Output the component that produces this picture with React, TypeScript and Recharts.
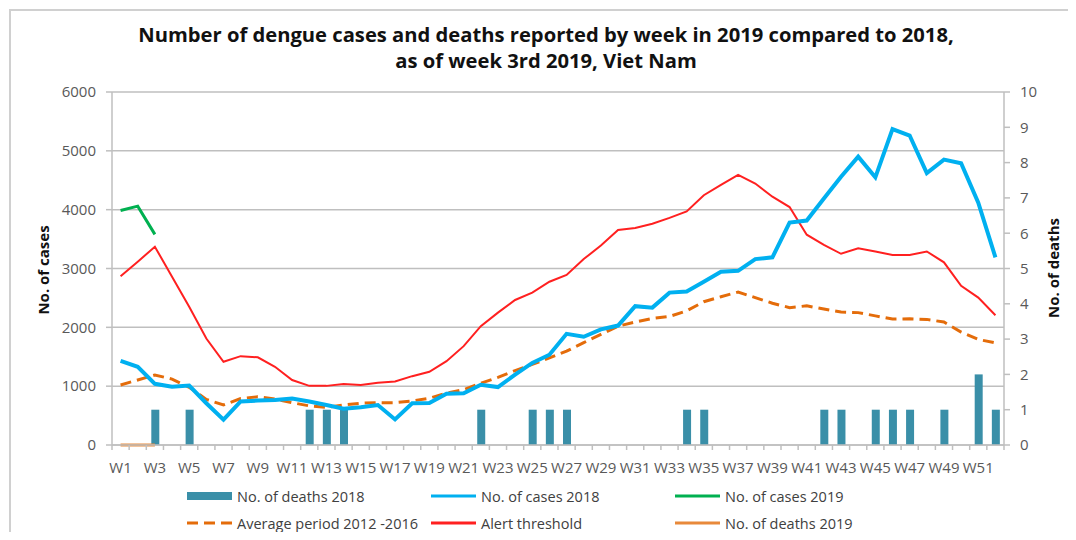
import {
  Bar,
  CartesianGrid,
  ComposedChart,
  Line,
  XAxis,
  YAxis,
} from 'recharts';

const weeks = [
  'W1', 'W2', 'W3', 'W4', 'W5', 'W6', 'W7', 'W8', 'W9', 'W10',
  'W11', 'W12', 'W13', 'W14', 'W15', 'W16', 'W17', 'W18', 'W19', 'W20',
  'W21', 'W22', 'W23', 'W24', 'W25', 'W26', 'W27', 'W28', 'W29', 'W30',
  'W31', 'W32', 'W33', 'W34', 'W35', 'W36', 'W37', 'W38', 'W39', 'W40',
  'W41', 'W42', 'W43', 'W44', 'W45', 'W46', 'W47', 'W48', 'W49', 'W50',
  'W51', 'W52',
];

const deaths2018 = [
  0, 0, 1, 0, 1, 0, 0, 0, 0, 0,
  0, 1, 1, 1, 0, 0, 0, 0, 0, 0,
  0, 1, 0, 0, 1, 1, 1, 0, 0, 0,
  0, 0, 0, 1, 1, 0, 0, 0, 0, 0,
  0, 1, 1, 0, 1, 1, 1, 0, 1, 0,
  2, 1,
];

const cases2018 = [
  1430, 1330, 1040, 990, 1010, 710, 430, 740, 755, 765,
  790, 740, 680, 615, 640, 680, 435, 710, 712, 870,
  880, 1025, 985, 1195, 1395, 1535, 1890, 1840, 1965, 2030,
  2360, 2335, 2590, 2610, 2775, 2945, 2960, 3160, 3190, 3780,
  3815, 4190, 4560, 4900, 4550, 5370, 5260, 4620, 4850, 4790,
  4120, 3190,
];

const cases2019 = [3985, 4060, 3580];

const deaths2019 = [0, 0, 0];

const averagePeriod = [
  1020, 1105, 1190, 1120, 980, 775, 680, 790, 820, 780,
  720, 665, 640, 680, 710, 720, 720, 750, 795, 880,
  940, 1050, 1150, 1265, 1370, 1480, 1595, 1740, 1880, 2020,
  2090, 2150, 2185, 2280, 2435, 2520, 2600, 2505, 2410, 2335,
  2365, 2310, 2260, 2250, 2195, 2140, 2145, 2135, 2090, 1920,
  1795, 1735,
];

const alertThreshold = [
  2870, 3115, 3370, 2860, 2350, 1810, 1415, 1510, 1490, 1330,
  1105, 1005, 1005, 1035, 1020, 1060, 1080, 1170, 1245, 1425,
  1680, 2020, 2250, 2465, 2590, 2775, 2890, 3160, 3390, 3655,
  3690, 3760, 3860, 3970, 4245, 4420, 4590, 4445, 4220, 4045,
  3575, 3400, 3250, 3345, 3290, 3230, 3230, 3290, 3105, 2705,
  2505, 2205,
];

const casesTicks = [0, 1000, 2000, 3000, 4000, 5000, 6000];
const deathsTicks = [0, 1, 2, 3, 4, 5, 6, 7, 8, 9, 10];

const FONT = "'Open Sans', 'Liberation Sans', sans-serif";
const AXIS_GRAY = '#bfbfbf';
const TEXT_GRAY = '#595959';

const CHART_W = 1060;
const CHART_H = 524;
const LEFT_AXIS_W = 104;
const RIGHT_AXIS_W = 64;
const BAND = (CHART_W - LEFT_AXIS_W - RIGHT_AXIS_W) / weeks.length;

const rows = weeks.map((week, i) => ({
  week,
  deaths2018: deaths2018[i] || null,
  cases2018: cases2018[i],
  cases2019: cases2019[i] ?? null,
  deaths2019: deaths2019[i] ?? null,
  average: averagePeriod[i],
  alert: alertThreshold[i],
}));

// legend order follows the Excel layout: 3 columns, 2 rows
const legendItems = [
  { label: 'No. of deaths 2018', color: '#3a8fa8', kind: 'bar' },
  { label: 'No. of cases 2018', color: '#00b0f0', kind: 'line' },
  { label: 'No. of cases 2019', color: '#00b050', kind: 'line' },
  { label: 'Average period 2012 -2016', color: '#e46c0a', kind: 'dash' },
  { label: 'Alert threshold', color: '#ff2020', kind: 'line' },
  { label: 'No. of deaths 2019', color: '#e8893a', kind: 'line' },
];

// Excel puts the tick marks between categories, labels on every other week
function WeekTick(props: any) {
  const { x, y, payload, index } = props;
  const half = BAND / 2;
  return (
    <g>
      <line x1={x - half} x2={x - half} y1={y} y2={y + 5} stroke={AXIS_GRAY} strokeWidth={1.5} />
      {index === weeks.length - 1 && (
        <line x1={x + half} x2={x + half} y1={y} y2={y + 5} stroke={AXIS_GRAY} strokeWidth={1.5} />
      )}
      {index % 2 === 0 && (
        <text x={x} y={y + 28} textAnchor="middle" fill={TEXT_GRAY} fontSize={15} fontFamily={FONT}>
          {payload.value}
        </text>
      )}
    </g>
  );
}

function LegendSwatch({ color, kind }: { color: string; kind: string }) {
  if (kind === 'bar') {
    return <span style={{ display: 'inline-block', width: 45, height: 8, background: color }} />;
  }
  return (
    <svg width={45} height={8} style={{ display: 'block' }}>
      <line
        x1={0}
        x2={45}
        y1={4}
        y2={4}
        stroke={color}
        strokeWidth={3}
        strokeDasharray={kind === 'dash' ? '11 6' : undefined}
      />
    </svg>
  );
}

export default function App() {
  return (
    <div
      style={{
        position: 'relative',
        width: CHART_W,
        height: CHART_H,
        overflow: 'hidden',
        fontFamily: FONT,
        background: '#fff',
      }}
    >
      <div
        style={{
          position: 'absolute',
          left: 1,
          top: 1,
          width: 1200,
          height: 700,
          border: '2px solid #d0d0d0',
          boxSizing: 'border-box',
        }}
      />
      <div
        style={{
          position: 'absolute',
          left: 0,
          top: 13,
          width: 1076,
          textAlign: 'center',
          fontSize: 20.2,
          fontWeight: 700,
          lineHeight: '26px',
          color: '#111',
        }}
      >
        Number of dengue cases and deaths reported by week in 2019 compared to 2018,
        <br />
        as of week 3rd 2019, Viet Nam
      </div>

      <ComposedChart
        width={CHART_W}
        height={CHART_H}
        data={rows}
        margin={{ top: 84, right: 0, left: 0, bottom: 57 }}
        style={{ position: 'absolute', left: 0, top: 0 }}
      >
        <CartesianGrid vertical={false} stroke={AXIS_GRAY} strokeWidth={1.5} yAxisId="cases" />
        <XAxis
          dataKey="week"
          interval={0}
          height={30}
          tickSize={0}
          tickMargin={0}
          tickLine={false}
          axisLine={{ stroke: AXIS_GRAY, strokeWidth: 1.5 }}
          tick={<WeekTick />}
        />
        <YAxis
          yAxisId="cases"
          orientation="left"
          width={LEFT_AXIS_W}
          domain={[0, 6000]}
          ticks={casesTicks}
          tickSize={6}
          tickMargin={10}
          axisLine={{ stroke: AXIS_GRAY, strokeWidth: 1.5 }}
          tickLine={{ stroke: AXIS_GRAY, strokeWidth: 1.5 }}
          tick={{ fill: TEXT_GRAY, fontSize: 15, fontFamily: FONT }}
        />
        <YAxis
          yAxisId="deaths"
          orientation="right"
          width={RIGHT_AXIS_W}
          domain={[0, 10]}
          ticks={deathsTicks}
          tickSize={6}
          tickMargin={10}
          axisLine={{ stroke: AXIS_GRAY, strokeWidth: 1.5 }}
          tickLine={{ stroke: AXIS_GRAY, strokeWidth: 1.5 }}
          tick={{ fill: TEXT_GRAY, fontSize: 15, fontFamily: FONT, textAnchor: 'start' }}
        />
        <Bar
          yAxisId="deaths"
          dataKey="deaths2018"
          fill="#3a8fa8"
          barSize={8}
          isAnimationActive={false}
        />
        <Line
          yAxisId="cases"
          dataKey="alert"
          stroke="#ff2020"
          strokeWidth={2}
          dot={false}
          activeDot={false}
          isAnimationActive={false}
        />
        <Line
          yAxisId="cases"
          dataKey="average"
          stroke="#e46c0a"
          strokeWidth={3}
          strokeDasharray="11 6"
          dot={false}
          activeDot={false}
          isAnimationActive={false}
        />
        <Line
          yAxisId="cases"
          dataKey="cases2018"
          stroke="#00b0f0"
          strokeWidth={4}
          dot={false}
          activeDot={false}
          isAnimationActive={false}
        />
        <Line
          yAxisId="cases"
          dataKey="cases2019"
          stroke="#00b050"
          strokeWidth={3}
          dot={false}
          activeDot={false}
          isAnimationActive={false}
        />
        <Line
          yAxisId="deaths"
          dataKey="deaths2019"
          stroke="#e8893a"
          strokeWidth={3}
          dot={false}
          activeDot={false}
          isAnimationActive={false}
        />
      </ComposedChart>

      <div
        style={{
          position: 'absolute',
          left: 35,
          top: 262,
          transform: 'translate(-50%, -50%) rotate(-90deg)',
          fontSize: 15,
          fontWeight: 700,
          color: '#111',
          whiteSpace: 'nowrap',
        }}
      >
        No. of cases
      </div>
      <div
        style={{
          position: 'absolute',
          left: 1045,
          top: 260,
          transform: 'translate(-50%, -50%) rotate(-90deg)',
          fontSize: 15,
          fontWeight: 700,
          color: '#111',
          whiteSpace: 'nowrap',
        }}
      >
        No. of deaths
      </div>

      {legendItems.map((item, i) => {
        const col = i % 3;
        const row = Math.floor(i / 3);
        return (
          <div
            key={item.label}
            style={{
              position: 'absolute',
              left: 179 + col * 244,
              top: 477 + row * 27,
              height: 22,
              display: 'flex',
              alignItems: 'center',
              gap: 5,
              fontSize: 14.5,
              color: '#404040',
              whiteSpace: 'nowrap',
            }}
          >
            <LegendSwatch color={item.color} kind={item.kind} />
            <span>{item.label}</span>
          </div>
        );
      })}
    </div>
  );
}
